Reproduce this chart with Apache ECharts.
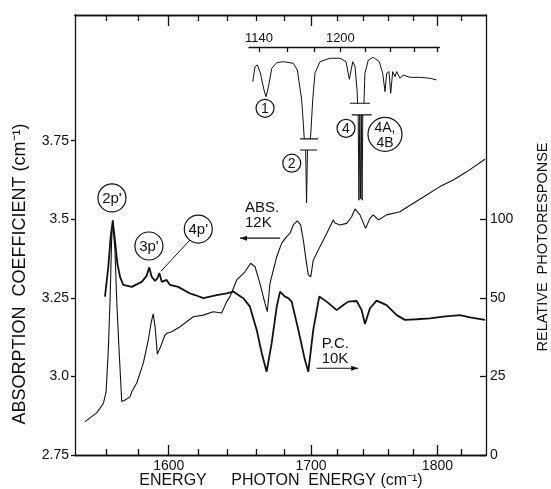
<!DOCTYPE html>
<html><head><meta charset="utf-8">
<script src="https://cdn.jsdelivr.net/npm/echarts@6/dist/echarts.min.js"></script>
<style>html,body{margin:0;padding:0;background:#fff}#c{width:551px;height:489px}</style>
</head><body><div id="c"></div>
<script>
// ---------- DATA (energies in cm^-1) ----------
// Absorption coefficient, 12 K (left axis)
const absData = [
 [1546.5,2.856],[1549.5,2.868],[1553.7,2.884],[1557.9,2.914],[1559.6,2.951],[1561.0,3.084],
 [1562.1,3.243],[1563.1,3.434],[1563.8,3.498],[1565.2,3.402],[1566.3,3.243],[1567.8,3.084],
 [1569.5,2.920],[1571.6,2.925],[1574.8,2.935],[1575.9,2.951],[1579.1,2.979],[1583.4,3.043],
 [1586.6,3.116],[1588.4,3.170],[1589.8,3.199],[1591.0,3.158],[1592.5,3.071],[1594.7,3.095],
 [1597.5,3.132],[1599.1,3.138],[1602.0,3.142],[1607.5,3.158],[1616.4,3.190],[1623.2,3.195],
 [1630.0,3.206],[1635.8,3.202],[1639.3,3.238],[1641.6,3.254],[1646.3,3.307],[1652.1,3.333],
 [1656.1,3.360],[1659.2,3.349],[1662.7,3.296],[1666.3,3.233],[1668.0,3.206],[1669.9,3.296],
 [1674.8,3.381],[1678.4,3.424],[1682.0,3.445],[1684.4,3.455],[1686.9,3.482],[1689.8,3.495],
 [1692.3,3.482],[1694.3,3.434],[1696.3,3.370],[1698.0,3.323],[1699.8,3.317],[1701.7,3.370],
 [1706.7,3.413],[1711.8,3.455],[1716.8,3.498],[1718.1,3.488],[1721.9,3.482],[1727.1,3.487],
 [1730.9,3.508],[1733.5,3.533],[1737.4,3.514],[1741.8,3.471],[1745.2,3.503],[1747.8,3.514],
 [1751.8,3.498],[1758.4,3.514],[1769.1,3.524],[1780.0,3.551],[1791.0,3.577],[1802.1,3.604],
 [1813.3,3.625],[1824.8,3.651],[1840.7,3.691]
];
// Relative photoresponse, 10 K (right axis, read in axis position units: 0,25,50,75 = ticks "0","25","50","100")
const pcData = [
 [1558.9,50.4],[1561.0,59.9],[1562.5,69.5],[1563.8,74.5],[1565.2,68.4],[1566.7,61.0],
 [1568.4,56.7],[1570.5,54.1],[1575.9,53.5],[1582.3,55.1],[1585.5,57.0],[1587.2,59.7],
 [1588.8,56.7],[1591.0,55.4],[1592.5,56.2],[1593.8,57.9],[1595.4,55.1],[1598.6,55.7],
 [1600.8,54.1],[1606.3,53.5],[1614.2,51.4],[1617.6,50.9],[1623.2,49.9],[1627.8,50.4],
 [1632.4,50.9],[1639.3,51.4],[1643.9,52.0],[1647.4,50.9],[1650.9,49.9],[1655.6,47.2],
 [1660.4,39.8],[1664.0,32.4],[1667.5,26.5],[1671.1,35.5],[1674.8,47.2],[1677.2,52.0],
 [1680.8,50.4],[1683.2,49.9],[1685.7,48.8],[1690.6,39.8],[1695.5,30.2],[1698.0,26.5],
 [1701.7,39.8],[1706.2,50.4],[1711.8,48.8],[1719.4,46.1],[1724.5,47.7],[1728.3,48.8],
 [1734.8,49.0],[1738.7,46.1],[1741.3,41.7],[1745.2,46.7],[1750.5,49.1],[1758.4,47.7],
 [1766.5,44.5],[1773.2,43.0],[1782.8,43.2],[1793.8,43.5],[1804.9,44.0],[1819.0,44.5],
 [1827.6,43.8],[1840.7,43.0]
];
// Inset transmission trace (relative), pieces separated at the axis breaks
const insetSeg1 = [[1135.6,0.787],[1137.2,0.879],[1138.8,0.890],[1140.7,0.848],[1143.5,0.736],[1144.9,0.695],
 [1146.6,0.756],[1149.0,0.869],[1152.5,0.904],[1157.3,0.910],[1164.5,0.900],[1167.5,0.859],[1170.7,0.675],
 [1172.0,0.52],[1172.6,0.436]];
const insetDip2Low = [[1173.6,0.368],[1174.3,0.043],[1175.0,0.368]];
const insetSeg2 = [[1177.0,0.436],[1177.4,0.46],[1178.9,0.675],[1180.6,0.839],[1184.4,0.910],[1192.0,0.931],
 [1199.7,0.931],[1204.4,0.910],[1207.0,0.802],[1209.7,0.910],[1211.5,0.879],[1213.1,0.736],[1213.5,0.655]];
const insetDip4Low = [[1214.0,0.583],[1214.6,0.06],[1215.3,0.583],[1215.9,0.07],[1216.6,0.583],[1217.1,0.06],[1217.7,0.583]];
const insetSeg3 = [[1218.6,0.655],[1219.4,0.839],[1222.1,0.920],[1226.1,0.937],[1231.0,0.910],[1233.8,0.839],
 [1235.7,0.726],[1237.1,0.839],[1239.0,0.849],[1240.4,0.716],[1242.1,0.849],[1244.0,0.818],[1245.4,0.849],
 [1248.2,0.808],[1250.9,0.828],[1256.6,0.814],[1265.2,0.814],[1273.9,0.808],[1279.8,0.798]];
const insetBreaks = [
 [[1169.5,0.436],[1182.9,0.436]], [[1169.5,0.368],[1182.2,0.368]],
 [[1207.5,0.655],[1223.5,0.655]], [[1208.9,0.583],[1224.9,0.583]]
];
// Axes / ticks
const mainRangeE = [1540.3, 1841.6];
const majorTicksE = [1600, 1700, 1800];
const minorTicksE = [1560,1580,1620,1640,1660,1680,1720,1740,1760,1780,1820];
const leftTicks = [2.75, 3.0, 3.25, 3.5, 3.75];
const leftTickLabels = ['2.75','3.0','3.25','3.5','3.75'];
const leftRange = [2.75, 4.15];
const rightTicks = [0, 25, 50, 75];
const rightTickLabels = ['0','25','50','100'];
const rightRange = [0, 140];
const insetRangeE = [1133.0, 1282.1];
const insetTicksE = [1140,1160,1180,1200,1220,1240,1260,1280];
const insetLabelE = [1140, 1200];
// Annotations (data coordinates)
const peakLabels = [{text:"2p'",E:1563.3,y:3.568},{text:"3p'",E:1587.0,y:3.415},{text:"4p'",E:1619.8,y:3.469}];
const leader4p = [[1614.2,3.434],[1594.9,3.335]];
const insetLabels = [{text:'1',E:1144.2,t:0.624},{text:'2',E:1163.4,t:0.287},{text:'4',E:1204.4,t:0.501},{text:'4A,\n4B',E:1235.7,t:0.464}];
const absText = {lines:['ABS.','12K'], E:1652.1, y:[3.537,3.488]};
const pcText = {lines:['P.C.','10K'], E:1708.0, y:[3.103,3.055]};
const absArrow = [[1677.2,3.440],[1648.6,3.440]];
const pcArrow = [[1704.2,3.026],[1736.0,3.026]];

// ---------- CHART ----------
const INK = '#111';
const FONT = '"Liberation Sans", Arial, sans-serif';
const lam = E => 1e7 / E;
const toXY = arr => arr.map(p => [lam(p[0]), p[1]]);

function xAxisDef(grid, pos, range, ticks, len, labelsE, fs, margin) {
  return {
    type:'value', gridIndex:grid, position:pos, inverse:true,
    min: lam(range[1]), max: lam(range[0]),
    axisLine:{show:true, onZero:false, lineStyle:{color:INK, width:1.3}},
    axisTick:{show:true, inside:true, length:len, customValues: ticks.map(lam), lineStyle:{color:INK, width:1.3}},
    axisLabel:{show: !!labelsE, customValues: (labelsE||[]).map(lam), formatter: v => String(Math.round(1e7/v)),
      color:INK, fontFamily:FONT, fontSize:fs||14, margin: margin||4},
    splitLine:{show:false}
  };
}

const series = [
  {type:'line', xAxisIndex:0, yAxisIndex:0, data: toXY(absData), showSymbol:false, silent:true,
   lineStyle:{color:INK, width:1.1}},
  {type:'line', xAxisIndex:0, yAxisIndex:1, data: toXY(pcData), showSymbol:false, silent:true,
   lineStyle:{color:INK, width:1.8}}
];
[insetSeg1, insetDip2Low, insetSeg2, insetDip4Low, insetSeg3].forEach(seg => series.push(
  {type:'line', xAxisIndex:4, yAxisIndex:2, data: toXY(seg), showSymbol:false, silent:true, lineStyle:{color:INK, width:1}}));
insetBreaks.forEach(seg => series.push(
  {type:'line', xAxisIndex:4, yAxisIndex:2, data: toXY(seg), showSymbol:false, silent:true, lineStyle:{color:INK, width:1.2}}));

const option = {
  animation:false,
  backgroundColor:'#fff',
  grid:[{left:75, right:65, top:15, bottom:34}, {left:249, top:47, width:190.3, height:163}],
  xAxis:[
    xAxisDef(0,'bottom',mainRangeE,majorTicksE,10,majorTicksE,14,4),
    xAxisDef(0,'bottom',mainRangeE,minorTicksE,6,null),
    xAxisDef(0,'top',mainRangeE,majorTicksE,11,null),
    xAxisDef(0,'top',mainRangeE,minorTicksE,6,null),
    xAxisDef(1,'top',insetRangeE,insetTicksE,5,insetLabelE,13,2)
  ],
  yAxis:[
    {type:'value', gridIndex:0, position:'left', min:leftRange[0], max:leftRange[1],
     axisLine:{show:true, lineStyle:{color:INK, width:1.3}},
     axisTick:{show:true, inside:false, length:4, customValues:leftTicks, lineStyle:{color:INK,width:1.3}},
     axisLabel:{customValues:leftTicks, formatter: v => leftTickLabels[leftTicks.findIndex(t=>Math.abs(t-v)<1e-6)] || '',
       color:INK, fontFamily:FONT, fontSize:14, margin:6},
     splitLine:{show:false}},
    {type:'value', gridIndex:0, position:'right', min:rightRange[0], max:rightRange[1],
     axisLine:{show:true, lineStyle:{color:INK, width:1.3}},
     axisTick:{show:true, inside:true, length:6, customValues:rightTicks, lineStyle:{color:INK,width:1.3}},
     axisLabel:{customValues:rightTicks, formatter: v => rightTickLabels[rightTicks.findIndex(t=>Math.abs(t-v)<1e-6)] || '',
       color:INK, fontFamily:FONT, fontSize:14, margin:4},
     splitLine:{show:false}},
    {type:'value', gridIndex:1, min:0, max:1, show:false}
  ],
  series: series
};

const chart = echarts.init(document.getElementById('c'));
chart.setOption(option);

const P = (E, y) => chart.convertToPixel({xAxisIndex:0, yAxisIndex:0}, [lam(E), y]);
const PI = (E, t) => chart.convertToPixel({xAxisIndex:4, yAxisIndex:2}, [lam(E), t]);
const g = [];
function txt(x, y, text, fs, align, rot) {
  const el = {type:'text', x:x, y:y, rotation: rot||0, silent:true,
    style:{text:text, font: fs + 'px ' + FONT, fill:INK, align: align||'center', verticalAlign:'middle',
           textAlign: align||'center', textVerticalAlign:'middle', lineHeight: fs+1}};
  g.push(el);
}
function circ(x, y, r) {
  g.push({type:'circle', silent:true, shape:{cx:x, cy:y, r:r}, style:{fill:'none', stroke:INK, lineWidth:1.2}});
}
function arrow(a, b) {
  g.push({type:'line', silent:true, shape:{x1:a[0], y1:a[1], x2:b[0], y2:b[1]}, style:{stroke:INK, lineWidth:1.2}});
  const dx = b[0]-a[0], dy = b[1]-a[1], L = Math.hypot(dx,dy), ux = dx/L, uy = dy/L;
  const hl = 7, hw = 2.5;
  g.push({type:'polygon', silent:true, shape:{points:[[b[0],b[1]],[b[0]-ux*hl-uy*hw, b[1]-uy*hl+ux*hw],[b[0]-ux*hl+uy*hw, b[1]-uy*hl-ux*hw]]},
    style:{fill:INK}});
}
peakLabels.forEach(l => { const p = P(l.E, l.y); circ(p[0], p[1], 14); txt(p[0], p[1]+1, l.text, 15); });
{ const a = P(leader4p[0][0], leader4p[0][1]), b = P(leader4p[1][0], leader4p[1][1]);
  g.push({type:'line', silent:true, shape:{x1:a[0],y1:a[1],x2:b[0],y2:b[1]}, style:{stroke:INK, lineWidth:1}}); }
insetLabels.forEach(l => { const p = PI(l.E, l.t); const big = l.text.length > 2;
  circ(p[0], p[1], big ? 17 : 9); txt(p[0], p[1]+1, l.text, 14); });
[absText, pcText].forEach(t => t.lines.forEach((s, i) => { const p = P(t.E, t.y[i]); txt(p[0], p[1], s, 15, 'left'); }));
arrow(P(absArrow[0][0], absArrow[0][1]), P(absArrow[1][0], absArrow[1][1]));
arrow(P(pcArrow[0][0], pcArrow[0][1]), P(pcArrow[1][0], pcArrow[1][1]));
// Axis titles
txt(20, 274, 'ABSORPTION  COEFFICIENT (cm\u207B\u00B9)', 18, 'center', Math.PI/2);
txt(543, 247, 'RELATIVE  PHOTORESPONSE', 14.5, 'center', Math.PI/2);
txt(173, 481, 'ENERGY', 16);
txt(327, 481, 'PHOTON  ENERGY (cm\u207B\u00B9)', 16);
chart.setOption({graphic: g});
</script>
</body></html>
